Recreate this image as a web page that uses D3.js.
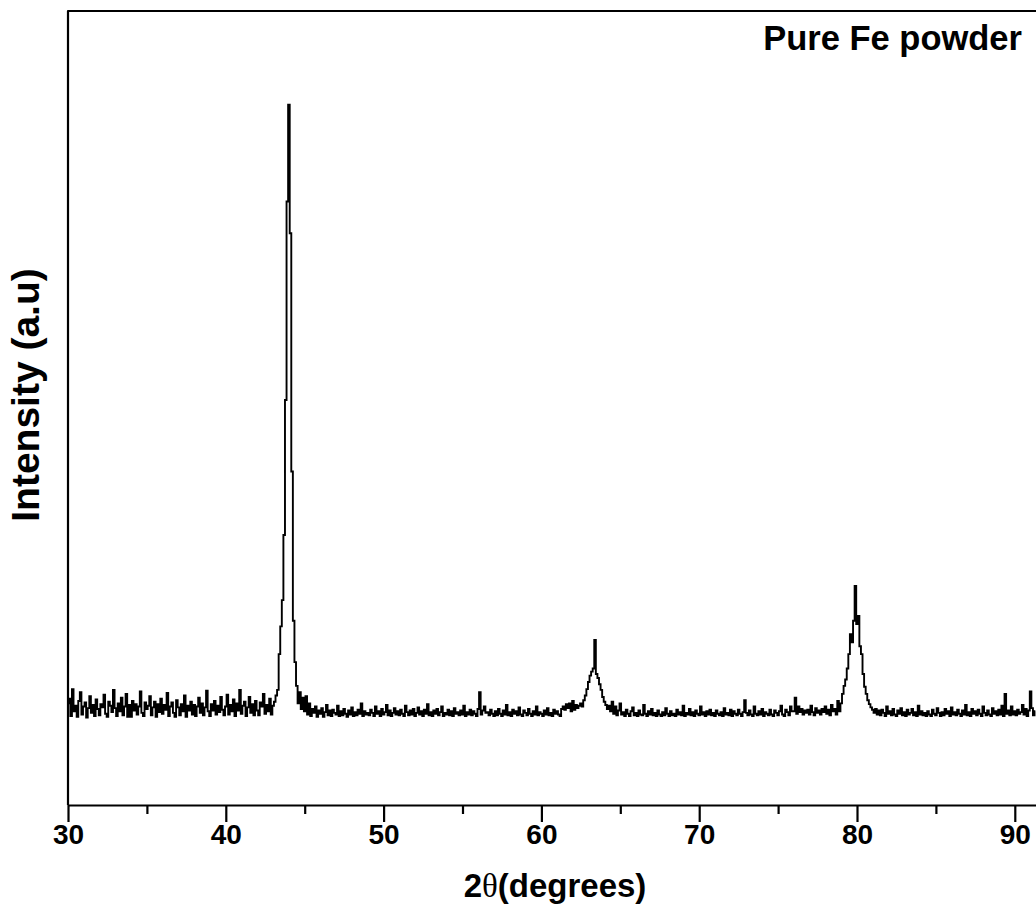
<!DOCTYPE html>
<html>
<head>
<meta charset="utf-8">
<script src="https://cdn.jsdelivr.net/npm/d3@7"></script>
<style>
  body { margin: 0; background: #fff; }
  svg { display: block; }
  text { font-family: "Liberation Sans", Arial, sans-serif; font-weight: bold; fill: #000; }
</style>
</head>
<body>
<div id="chart"></div>
<script>
// XRD scan, every 0.1 degree
const angleStart = 30;
const angleStep = 0.1;

const counts30 = [
  128,134,112,146,118,125,111,131,142,114,
  124,129,110,122,137,116,126,112,133,121,
  113,127,123,139,115,111,130,125,117,145,
  122,112,128,118,135,113,124,140,111,126,
  111,131,119,127,114,124,143,116,112,129,
  121,125,137,113,123,130,111,127,117,134,
  115,126,120,141,112,124,129,116,111,132,
  123,113,127,118,138,111,125,119,130,114,
  126,112,124,135,116,128,113,123,144,118,
  112,127,119,131,114,125,117,136,120,113
];
const counts40 = [
  124,139,114,126,118,133,112,128,119,145,
  115,125,130,112,123,136,116,127,113,131,
  119,113,129,124,140,115,126,118,134,114,
  125,130,138,145,190,225,258,340,510,760,
  882,720,420,232,180,150,128,142,121,135,
  118,137,114,128,112,121,116,124,111,119,
  115,122,111,117,126,113,119,112,120,116,
  114,125,112,118,113,121,115,111,119,114,
  123,112,117,113,120,115,128,112,118,114,
  116,113,120,116,112,124,115,118,112,121
];
const counts50 = [
  114,117,126,113,119,112,116,122,114,118,
  113,120,115,112,125,117,113,119,114,121,
  112,116,123,114,118,112,120,115,127,113,
  117,112,119,115,121,113,117,124,112,116,
  114,120,113,118,112,122,115,117,113,119,
  114,125,112,117,114,120,113,118,115,112,
  121,142,114,119,124,116,117,113,120,115,
  112,118,113,121,115,112,119,114,126,113,
  117,112,120,115,118,113,123,114,112,119,
  116,113,121,115,112,118,114,124,113,117
];
const counts60 = [
  115,112,119,114,122,113,116,112,120,115,
  118,114,112,121,124,120,127,122,128,118,
  131,120,126,122,125,128,124,132,138,146,
  155,163,168,172,208,165,160,152,145,136,
  130,126,121,125,118,130,115,124,113,119,
  128,114,117,112,120,115,112,118,123,113,
  116,112,119,114,113,126,115,112,118,114,
  121,113,116,112,119,114,112,117,113,122,
  115,112,118,113,115,112,120,114,117,113,
  125,112,116,114,121,113,117,112,119,115
];
const counts70 = [
  113,124,114,117,112,118,114,120,113,116,
  112,119,115,113,117,112,122,114,116,113,
  120,112,118,115,113,120,115,112,117,132,
  116,113,119,114,112,124,115,113,118,114,
  121,112,117,115,113,120,114,112,119,116,
  113,118,125,114,112,120,117,113,124,118,
  118,135,115,124,117,121,114,119,116,120,
  114,125,117,113,122,116,119,114,121,117,
  124,115,120,113,126,118,121,114,131,118,
  128,140,150,158,172,190,215,205,232,276
];
const counts80 = [
  228,238,200,190,165,149,140,132,127,123,
  120,116,121,114,119,113,120,116,112,124,
  115,118,113,121,114,112,119,115,122,113,
  117,112,120,114,116,121,113,117,112,125,
  114,118,113,116,112,118,114,112,120,115,
  113,122,116,112,117,113,121,115,118,112,
  123,114,117,113,120,115,112,119,114,126,
  113,117,112,121,115,118,113,120,115,112,
  124,116,113,119,114,112,122,115,118,113,
  120,114,125,112,140,115,119,113,124,114
];
const counts90 = [
  118,113,120,115,117,126,114,121,112,119,
  143,122,113,118
];

const majorTicks = [30, 40, 50, 60, 70, 80, 90];
const minorTicks = [35, 45, 55, 65, 75, 85, 95];

const xTitle = "(degrees)";
const yTitle = "Intensity (a.u)";
const sampleName = "Pure Fe powder";

// join the pieces into one scan
const counts = [].concat(counts30, counts40, counts50, counts60, counts70, counts80, counts90);
const scan = counts.map((c, i) => ({angle: angleStart + i * angleStep, counts: c}));

const width = 1036, height = 911;
const margin = {top: 11, left: 68, bottom: 106};

const svg = d3.select("#chart").append("svg")
    .attr("width", width)
    .attr("height", height);

svg.append("rect").attr("width", width).attr("height", height).attr("fill", "#fff");

// x runs past the right edge, the picture is cut there
const x = d3.scaleLinear()
    .domain([30, 100])
    .range([margin.left, margin.left + 70 * 15.78]);

const y = d3.scaleLinear()
    .domain([0, 1000])
    .range([height - margin.bottom, margin.top]);

svg.append("defs").append("clipPath").attr("id", "plotClip")
  .append("rect")
    .attr("x", margin.left).attr("y", margin.top)
    .attr("width", width - margin.left)
    .attr("height", height - margin.bottom - margin.top);

// the scan
const line = d3.line()
    .x(d => x(d.angle))
    .y(d => y(d.counts))
    .curve(d3.curveStep);

svg.append("path")
    .datum(scan)
    .attr("clip-path", "url(#plotClip)")
    .attr("d", line)
    .attr("fill", "none")
    .attr("stroke", "#000")
    .attr("stroke-width", 1.9)
    .attr("stroke-linejoin", "miter");

// frame: left and top
svg.append("path")
    .attr("d", `M${margin.left},${height - margin.bottom}V${margin.top}H${width + 5}`)
    .attr("fill", "none")
    .attr("stroke", "#000")
    .attr("stroke-width", 2.2)
    .attr("stroke-linejoin", "round");

// bottom axis, major ticks with labels
const axisG = svg.append("g")
    .attr("transform", `translate(0,${height - margin.bottom})`)
    .call(d3.axisBottom(x).tickValues(majorTicks).tickSize(17).tickSizeOuter(0).tickPadding(2));

axisG.select(".domain").attr("stroke-width", 2.2);
axisG.selectAll(".tick line").attr("stroke-width", 2.2);
axisG.selectAll(".tick text")
    .style("font-family", '"Liberation Sans", Arial, sans-serif')
    .style("font-weight", "bold")
    .style("font-size", "28px")
    .attr("fill", "#000");

// minor ticks
svg.append("g")
    .attr("transform", `translate(0,${height - margin.bottom})`)
    .call(d3.axisBottom(x).tickValues(minorTicks).tickSize(9).tickSizeOuter(0).tickFormat(""))
    .call(g => g.select(".domain").remove())
    .selectAll(".tick line").attr("stroke-width", 2.2);

// axis titles
const xt = svg.append("text")
    .attr("x", 555)
    .attr("y", 897)
    .attr("text-anchor", "middle")
    .style("font-size", "33px");
xt.append("tspan").text("2");
xt.append("tspan")
    .style("font-family", '"Liberation Serif", "Times New Roman", serif')
    .style("font-weight", "normal")
    .text("\u03b8");
xt.append("tspan").text(xTitle);

svg.append("text")
    .attr("transform", "translate(39,395) rotate(-90)")
    .attr("text-anchor", "middle")
    .style("font-size", "39px")
    .text(yTitle);

svg.append("text")
    .attr("x", 1022)
    .attr("y", 50)
    .attr("text-anchor", "end")
    .style("font-size", "34.5px")
    .text(sampleName);
</script>
</body>
</html>
